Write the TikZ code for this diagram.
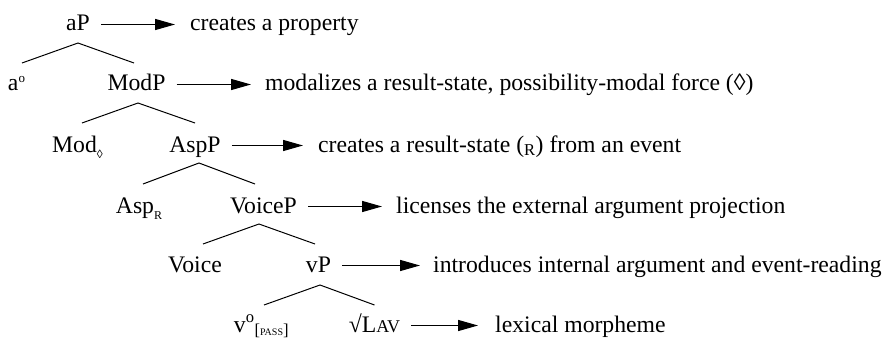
\documentclass[tikz,border=0pt]{standalone}
\usepackage{fontspec}
\setmainfont{Liberation Serif}
\usetikzlibrary{arrows.meta}
\newcommand{\smallsub}[1]{\raisebox{-6.5pt}{\fontsize{12}{12}\selectfont #1}}
\begin{document}
\begin{tikzpicture}[x=1pt,y=-1pt,
  lab/.style={inner sep=0pt, anchor=base, font=\fontsize{23.7}{28}\selectfont},
  desc/.style={lab, anchor=base west},
  br/.style={line width=1pt},
  arr/.style={line width=1.3pt, -{Triangle[length=20pt,width=11pt]}}]
\useasboundingbox (0,0) rectangle (889,345);
% tree nodes
\node[lab] (aP) at (78,31) {aP};
\node[lab] (a0) at (16.5,91) {a\raisebox{8.5pt}{\fontsize{13}{13}\selectfont o}};
\node[lab] (ModP) at (136.5,91) {ModP};
\node[lab] (Mod) at (77.5,152) {Mod\smallsub{◊}};
\node[lab] (AspP) at (195,152) {AspP};
\node[lab] (Asp) at (139,213) {Asp\smallsub{R}};
\node[lab] (VoiceP) at (263.5,213) {VoiceP};
\node[lab] (Voice) at (195,272) {Voice};
\node[lab] (vP) at (318.5,272) {vP};
\node[lab] (v0) at (261.5,332) {v\textsuperscript{o}\textsubscript{[{\fontsize{10}{12}\selectfont PASS}]}};
\node[lab] (LAV) at (374.5,332) {√L{\fontsize{18}{20}\selectfont AV}};
% descriptions
\node[desc] (d1) at (190,31) {creates a property};
\node[desc] (d2) at (265,91) {modalizes a result-state, possibility-modal force (◊)};
\node[desc] (d3) at (318,152) {creates a result-state (\textsubscript{R}) from an event};
\node[desc] (d4) at (396,213) {licenses the external argument projection};
\node[desc] (d5) at (433,272) {introduces internal argument and event-reading};
\node[desc] (d6) at (495,332) {lexical morpheme};
% arrows
\draw[arr] ([xshift=11pt,yshift=6.5pt]aP.base east) -- ([xshift=-15pt,yshift=6.5pt]d1.base west);
\draw[arr] ([xshift=11pt,yshift=6.5pt]ModP.base east) -- ([xshift=-14pt,yshift=6.5pt]d2.base west);
\draw[arr] ([xshift=11pt,yshift=6.5pt]AspP.base east) -- ([xshift=-15pt,yshift=6.5pt]d3.base west);
\draw[arr] ([xshift=11pt,yshift=6.5pt]VoiceP.base east) -- ([xshift=-14pt,yshift=6.5pt]d4.base west);
\draw[arr] ([xshift=11pt,yshift=6.5pt]vP.base east) -- ([xshift=-13pt,yshift=6.5pt]d5.base west);
\draw[arr] ([xshift=11pt,yshift=6.5pt]LAV.base east) -- ([xshift=-17pt,yshift=6.5pt]d6.base west);
% branches
\draw[br] ([yshift=-12pt]aP.base) -- ([xshift=5.5pt,yshift=28pt]a0.base);
\draw[br] ([yshift=-12pt]aP.base) -- ([xshift=-2.5pt,yshift=28pt]ModP.base);
\draw[br] ([xshift=1.5pt,yshift=-12pt]ModP.base) -- ([xshift=4.5pt,yshift=29pt]Mod.base);
\draw[br] ([xshift=1.5pt,yshift=-12pt]ModP.base) -- ([yshift=29pt]AspP.base);
\draw[br] ([xshift=4pt,yshift=-11pt]AspP.base) -- ([xshift=4pt,yshift=29pt]Asp.base);
\draw[br] ([xshift=4pt,yshift=-11pt]AspP.base) -- ([xshift=-8.5pt,yshift=29pt]VoiceP.base);
\draw[br] ([xshift=-4.5pt,yshift=-11pt]VoiceP.base) -- ([xshift=8pt,yshift=28pt]Voice.base);
\draw[br] ([xshift=-4.5pt,yshift=-11pt]VoiceP.base) -- ([xshift=-3.5pt,yshift=28pt]vP.base);
\draw[br] ([xshift=1.5pt,yshift=-13pt]vP.base) -- ([xshift=2.5pt,yshift=27pt]v0.base);
\draw[br] ([xshift=1.5pt,yshift=-13pt]vP.base) -- ([yshift=27pt]LAV.base);
\end{tikzpicture}
\end{document}
